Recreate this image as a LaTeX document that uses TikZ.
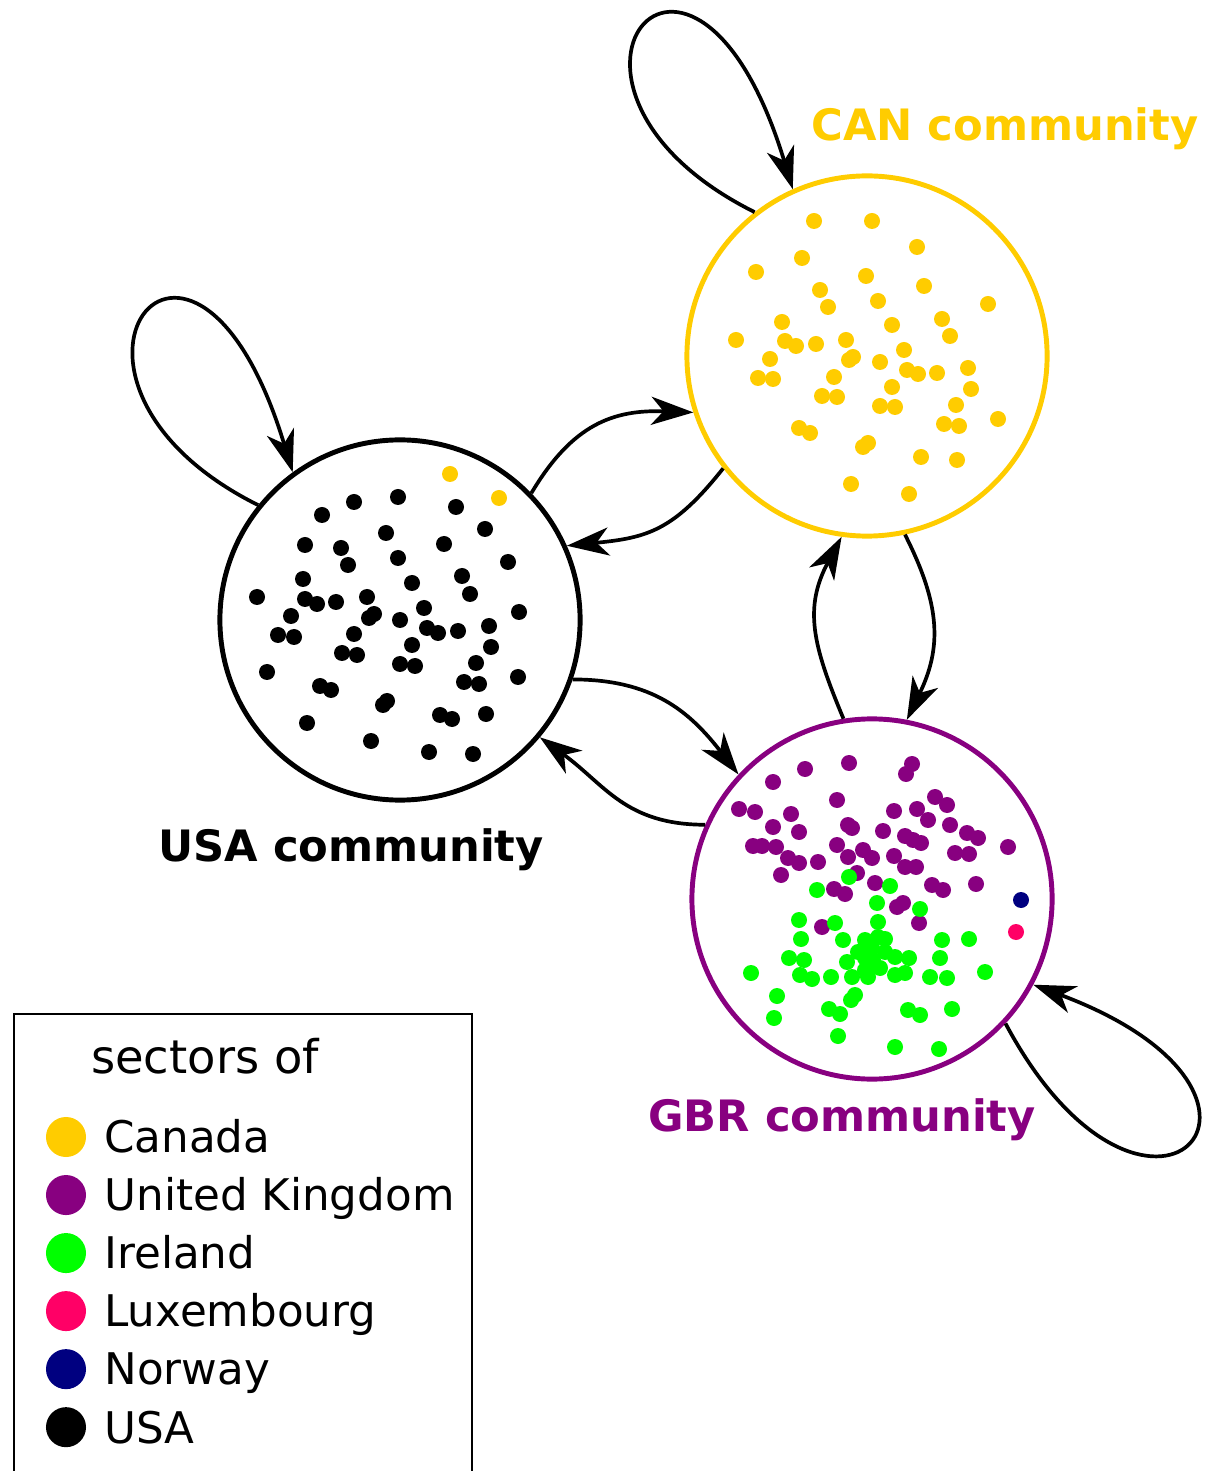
\documentclass[tikz,border=0pt]{standalone}
\usepackage{fontspec}
\setmainfont{DejaVu Sans}
\usetikzlibrary{arrows.meta,positioning}

\definecolor{canyellow}{RGB}{255,204,0}
\definecolor{gbrpurple}{RGB}{136,0,128}
\definecolor{irlgreen}{RGB}{0,255,0}
\definecolor{luxred}{RGB}{255,0,102}
\definecolor{norblue}{RGB}{0,0,128}

\begin{document}
\begin{tikzpicture}[x=0.01cm, y=0.01cm,
  community/.style={circle, draw, line width=1.4pt, minimum size=3.6cm, inner sep=0pt},
  flow/.style={-{Stealth[length=12pt,width=8pt,inset=3.5pt]}, line width=1.05pt},
  comlabel/.style={font=\fontsize{12.3}{14}\selectfont\bfseries, text height=0.73em, text depth=0pt},
  legdot/.style={circle, minimum size=0.4cm, inner sep=0pt, outer sep=0pt},
  legtext/.style={font=\fontsize{12.4}{14}\selectfont, text height=0.73em, text depth=0pt}]
\useasboundingbox (0,0) rectangle (1216,-1471);

\node[community, draw=canyellow] (can) at (867,-356) {};
\node[community, draw=black] (usa) at (400,-620) {};
\node[community, draw=gbrpurple] (gbr) at (872,-899) {};

\node[comlabel, text=canyellow] (canlabel) at (1005,-128) {CAN community};
\node[comlabel, text=black] (usalabel) at (351,-849) {USA community};
\node[comlabel, text=gbrpurple] (gbrlabel) at (842,-1119) {GBR community};

% sectors inside the communities
\foreach \x/\y in {814/221, 872/221, 917/247, 802/258, 756/272, 866/276, 924/286, 820/290, 828/307, 878/301,
  988/304, 782/322, 942/319, 892/325, 950/336, 736/340, 785/341, 796/346, 816/344, 846/340, 904/350,
  853/357, 849/360, 770/359, 880/362, 907/370, 918/374, 937/373, 968/368, 758/378, 773/379, 834/377,
  971/389, 892/387, 822/396, 837/397, 880/406, 895/407, 956/405, 998/419, 944/424, 959/426, 799/428,
  810/433, 868/443, 863/447, 921/457, 957/460, 851/484, 909/494, 450/474, 499/498}
  \fill[canyellow] (\x,-\y) circle (8);
\foreach \x/\y in {398/497, 354/502, 322/515, 456/507, 485/529, 386/533, 305/545, 341/548, 444/544,
  348/565, 398/558, 508/562, 303/579, 462/576, 412/583, 470/594, 257/597, 305/599, 317/604, 336/602,
  367/597, 519/612, 424/608, 374/614, 369/618, 291/616, 400/620, 427/628, 438/633, 458/631, 489/626,
  278/635, 294/637, 354/634, 412/645, 491/647, 342/653, 357/655, 400/664, 415/666, 476/663, 267/672,
  518/677, 464/682, 479/684, 320/686, 331/690, 387/701, 383/705, 440/715, 452/719, 486/714, 307/723,
  371/741, 429/752, 473/754}
  \fill[black] (\x,-\y) circle (8);
\foreach \x/\y in {849/763, 912/764, 906/774, 805/769, 773/782, 837/800, 739/809, 755/812, 935/797,
  947/805, 791/814, 894/811, 917/809, 928/820, 773/827, 799/832, 848/825, 852/828, 883/831, 950/825,
  905/836, 913/840, 921/843, 967/833, 978/838, 753/846, 762/846, 776/847, 837/845, 788/858, 799/863,
  818/862, 848/857, 863/850, 872/858, 894/856, 955/853, 969/854, 1008/847, 905/867, 916/867, 857/873,
  781/875, 875/883, 932/885, 943/890, 976/884, 834/889, 845/894, 903/903, 897/907, 822/927, 919/923}
  \fill[gbrpurple] (\x,-\y) circle (8);
\foreach \x/\y in {849/877, 817/890, 890/886, 877/903, 920/909, 799/920, 835/923, 878/922, 801/939,
  843/940, 865/940, 878/937, 885/939, 942/940, 969/939, 789/958, 804/960, 847/962, 865/958, 873/960,
  895/957, 909/958, 940/958, 751/973, 800/975, 812/979, 831/977, 852/977, 868/977, 895/975, 905/973,
  930/977, 947/978, 985/972, 777/996, 851/1000, 855/995, 829/1009, 840/1014, 908/1010, 920/1015,
  952/1009, 774/1018, 838/1036, 895/1047, 939/1049, 858/952, 872/948, 885/952, 865/970, 880/968}
  \fill[irlgreen] (\x,-\y) circle (8);
\fill[norblue] (1021,-900) circle (8);
\fill[luxred] (1016,-932) circle (8);

% flows between communities
\draw[flow] (can.128) .. controls +(-250,125) and +(-100,330) .. (can.114);
\draw[flow] (usa.141) .. controls +(-250,125) and +(-100,330) .. (usa.126);
\draw[flow] (gbr.-43) .. controls +(140,-262) and +(300,-112) .. (gbr.-28);
\draw[flow] (usa.44) .. controls +(41,69) and +(-80,3) .. (can.198);
\draw[flow] (can.218) .. controls +(-50,-63) and +(80,8) .. (usa.24);
\draw[flow] (usa.-19) .. controls +(80,0) and +(-49,63) .. (gbr.137);
\draw[flow] (gbr.156) .. controls +(-80,0) and +(65,-47) .. (usa.-40);
\draw[flow] (gbr.99) .. controls +(-31,74) and +(-38,-71) .. (can.-98);
\draw[flow] (can.-78) .. controls +(36,-71) and +(35,72) .. (gbr.79);

% legend
\draw[line width=0.6pt] (14,-1490) |- (472,-1014) -- (472,-1490);
\node[legtext, font=\fontsize{13.2}{15}\selectfont] (legtitle) at (205,-1061) {sectors of};
\node[legdot, fill=canyellow] (dotcan) at (66,-1137) {};
\node[legdot, fill=gbrpurple, below=0.18cm of dotcan] (dotgbr) {};
\node[legdot, fill=irlgreen, below=0.18cm of dotgbr] (dotirl) {};
\node[legdot, fill=luxred, below=0.18cm of dotirl] (dotlux) {};
\node[legdot, fill=norblue, below=0.18cm of dotlux] (dotnor) {};
\node[legdot, fill=black, below=0.18cm of dotnor] (dotusa) {};
\node[legtext, right=0.06cm of dotcan, yshift=-0.03cm] (txtcan) {Canada};
\node[legtext, right=0.06cm of dotgbr, yshift=-0.03cm] (txtgbr) {United Kingdom};
\node[legtext, right=0.06cm of dotirl, yshift=-0.03cm] (txtirl) {Ireland};
\node[legtext, right=0.06cm of dotlux, yshift=-0.03cm] (txtlux) {Luxembourg};
\node[legtext, right=0.06cm of dotnor, yshift=-0.03cm] (txtnor) {Norway};
\node[legtext, right=0.06cm of dotusa, yshift=-0.03cm] (txtusa) {USA};

\end{tikzpicture}
\end{document}
